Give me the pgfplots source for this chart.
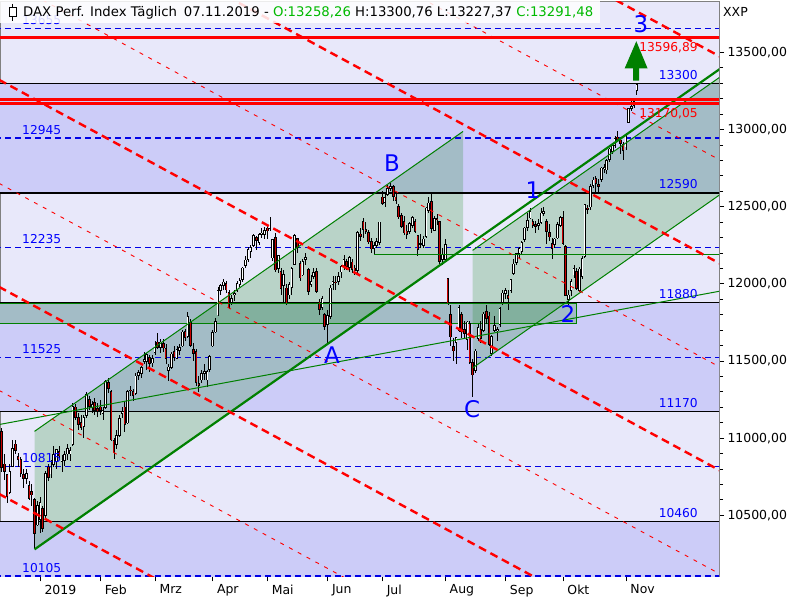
\documentclass[border=0pt]{standalone}
\usepackage{fontspec}
\setmainfont{DejaVu Sans}
\usepackage{pgfplots}
\pgfplotsset{compat=1.18}
\usepackage{pgfplotstable}
\usetikzlibrary{arrows.meta}

\definecolor{bandlight}{RGB}{232,232,250}
\definecolor{banddark}{RGB}{204,204,248}
\definecolor{chgreen}{RGB}{0,128,0}
\definecolor{lvlblue}{RGB}{0,0,230}
\definecolor{txtgreen}{RGB}{0,185,0}
\definecolor{framegray}{RGB}{128,128,128}
\definecolor{candlered}{RGB}{200,0,0}

% daily candles, x = trading day (02.01.2019 = 0)
\pgfplotstableread{
i o h l c
-14 11040 11065 10782 10811
-13 10830 10900 10730 10788
-12 10760 10770 10580 10622
-11 10650 10830 10640 10780
-10 10820 10990 10810 10931
-9 10960 10985 10900 10924
-8 10880 10905 10810 10865
-7 10860 10880 10750 10772
-6 10760 10800 10680 10740
-5 10740 10800 10700 10766
-4 10690 10720 10600 10611
-3 10650 10700 10560 10634
-2 10600 10610 10279 10382
-1 10440 10590 10430 10559
0 10477 10620 10386 10580
1 10540 10560 10390 10416
2 10500 10790 10480 10767
3 10810 10830 10720 10747
4 10770 10860 10740 10804
5 10830 10950 10810 10893
6 10850 10930 10800 10922
7 10910 10950 10860 10887
8 10850 10890 10780 10856
9 10860 10920 10820 10891
10 10900 10960 10860 10931
11 10900 10940 10850 10918
12 10960 11230 10950 11205
13 11200 11220 11120 11136
14 11130 11160 11050 11090
15 11100 11150 11050 11071
16 11080 11150 11000 11131
17 11150 11300 11130 11282
18 11250 11270 11180 11210
19 11200 11240 11160 11218
20 11230 11260 11150 11181
21 11190 11230 11140 11173
22 11200 11250 11150 11180
23 11160 11200 11120 11176
24 11200 11380 11190 11368
25 11360 11390 11290 11324
26 11300 11310 10980 10990
27 10980 11000 10863 10906
28 10960 11050 10930 11014
29 11020 11150 11010 11126
30 11160 11200 11130 11167
31 11200 11240 11040 11089
32 11100 11310 11090 11299
33 11310 11340 11270 11309
34 11300 11320 11240 11278
35 11290 11420 11280 11401
36 11410 11440 11380 11423
37 11420 11470 11390 11457
38 11500 11560 11480 11505
39 11500 11550 11440 11540
40 11520 11540 11430 11487
41 11490 11540 11460 11516
42 11560 11630 11540 11601
43 11620 11680 11580 11592
44 11590 11640 11550 11620
45 11610 11640 11560 11587
46 11580 11610 11480 11518
47 11440 11480 11370 11458
48 11460 11560 11450 11543
49 11560 11600 11500 11524
50 11520 11600 11510 11572
51 11570 11610 11540 11587
52 11600 11700 11590 11686
53 11690 11710 11630 11657
54 11660 11820 11650 11788
55 11750 11770 11590 11603
56 11570 11620 11500 11550
57 11560 11580 11340 11364
58 11350 11400 11300 11346
59 11380 11440 11360 11419
60 11420 11480 11380 11428
61 11380 11440 11330 11428
62 11450 11540 11430 11526
63 11600 11700 11590 11681
64 11690 11780 11680 11754
65 11800 11980 11790 11954
66 11960 12000 11930 11988
67 11990 12030 11960 12009
68 12000 12020 11940 11963
69 11940 11960 11840 11850
70 11880 11930 11860 11905
71 11930 11960 11890 11935
72 11960 12020 11950 11999
73 12000 12040 11980 12020
74 12030 12110 12010 12101
75 12120 12180 12100 12153
76 12160 12240 12140 12222
77 12210 12250 12170 12235
78 12250 12320 12240 12313
79 12300 12310 12220 12282
80 12270 12330 12250 12315
81 12320 12360 12300 12328
82 12320 12370 12290 12344
83 12360 12380 12290 12345
84 12360 12436 12340 12412
85 12170 12290 12150 12286
86 12300 12330 12080 12092
87 12100 12190 12070 12180
88 12080 12100 11930 11973
89 11990 12090 11870 12060
90 11970 12000 11860 11876
91 11930 12010 11900 11991
92 11980 12110 11930 12099
93 12130 12320 12120 12310
94 12290 12300 12200 12238
95 12130 12150 12020 12041
96 12060 12160 12050 12143
97 12160 12200 12120 12169
98 12090 12100 11930 11952
99 12000 12060 11980 12011
100 12050 12100 12030 12071
101 12080 12100 11940 11954
102 11880 11900 11800 11837
103 11850 11920 11830 11902
104 11800 11810 11700 11727
105 11740 11830 11620 11792
106 11790 11990 11770 11971
107 12000 12050 11960 12015
108 12010 12050 11960 12009
109 12020 12080 11990 12045
110 12080 12120 12040 12110
111 12120 12190 12090 12155
112 12140 12160 12090 12116
113 12110 12180 12080 12169
114 12140 12160 12070 12096
115 12100 12120 12060 12086
116 12090 12340 12060 12331
117 12320 12360 12280 12309
118 12400 12430 12300 12355
119 12350 12400 12320 12340
120 12330 12350 12260 12274
121 12270 12300 12200 12228
122 12230 12270 12190 12245
123 12250 12300 12230 12271
124 12270 12400 12250 12399
125 12560 12600 12510 12521
126 12530 12580 12500 12556
127 12580 12640 12570 12616
128 12620 12656 12600 12629
129 12630 12640 12540 12568
130 12560 12590 12520 12543
131 12500 12520 12420 12436
132 12440 12460 12360 12373
133 12400 12440 12320 12332
134 12340 12380 12290 12323
135 12340 12400 12320 12387
136 12380 12440 12360 12430
137 12400 12420 12330 12342
138 12310 12320 12180 12227
139 12260 12320 12230 12260
140 12250 12310 12230 12289
141 12310 12500 12300 12490
142 12480 12560 12460 12522
143 12530 12580 12330 12362
144 12350 12440 12340 12419
145 12420 12450 12380 12417
146 12400 12410 12130 12147
147 12160 12230 12120 12189
148 12160 12290 12140 12253
149 12030 12040 11860 11872
150 11800 11860 11600 11658
151 11590 11650 11500 11567
152 11620 11650 11480 11650
153 11700 11860 11690 11845
154 11800 11820 11650 11694
155 11700 11760 11640 11680
156 11640 11760 11570 11750
157 11740 11760 11480 11492
158 11490 11510 11266 11412
159 11440 11580 11420 11563
160 11650 11740 11630 11715
161 11700 11760 11620 11648
162 11700 11820 11690 11802
163 11820 11860 11740 11777
164 11790 11820 11600 11612
165 11550 11670 11530 11658
166 11700 11790 11690 11730
167 11700 11720 11630 11701
168 11740 11850 11720 11838
169 11880 11960 11860 11939
170 11940 11970 11900 11953
171 11920 11960 11830 11910
172 11960 12030 11940 12025
173 12070 12160 12060 12127
174 12140 12200 12120 12192
175 12200 12240 12170 12227
176 12210 12280 12190 12268
177 12290 12370 12270 12359
178 12370 12460 12340 12410
179 12430 12490 12420 12469
180 12400 12420 12360 12381
181 12380 12410 12330 12372
182 12380 12420 12350 12389
183 12400 12490 12390 12457
184 12460 12500 12440 12468
185 12400 12420 12260 12342
186 12330 12390 12280 12307
187 12260 12300 12160 12234
188 12260 12300 12230 12289
189 12300 12400 12290 12381
190 12380 12440 12370 12428
191 12430 12470 12250 12263
192 12240 12250 11920 11925
193 11900 11960 11860 11925
194 11960 12030 11920 12013
195 12060 12120 12040 12097
196 12080 12100 11960 11970
197 11960 12110 11950 12094
198 12050 12180 12030 12164
199 12180 12520 12170 12512
200 12490 12510 12450 12487
201 12500 12650 12480 12630
202 12640 12690 12620 12670
203 12680 12700 12590 12654
204 12640 12680 12590 12634
205 12680 12760 12660 12748
206 12750 12780 12720 12754
207 12740 12810 12710 12799
208 12810 12880 12790 12872
209 12860 12910 12840 12895
210 12900 12960 12880 12941
211 12950 12990 12920 12940
212 12930 12950 12840 12910
213 12900 12920 12800 12867
214 12890 12980 12870 12961
215 13050 13140 13040 13136
216 13140 13190 13120 13148
217 13160 13200 13140 13179
218 13258 13300 13227 13291
}\candles

\begin{document}
\begin{tikzpicture}[x=1bp,y=1bp]
\useasboundingbox (0,0) rectangle (800,600);
\fill[white] (0,0) rectangle (800,600);
\begin{axis}[
  at={(0,15.3)}, anchor=south west,
  scale only axis, width=719bp, height=575bp,
  xmin=-14.61, xmax=248, ymin=10104, ymax=13831,
  axis background/.style={fill=bandlight},
  axis line style={framegray},
  xtick={0,22,42,63,83,105,125,148,170,191,214},
  xticklabels={2019,Feb,Mrz,Apr,Mai,Jun,Jul,Aug,Sep,Okt,Nov},
  xtick pos=left,
  ytick={10500,11000,11500,12000,12500,13000,13500},
  minor y tick num=4,
  scaled y ticks=false,
  ytick pos=right, yticklabel pos=right,
  tick align=outside,
  major tick length=5bp, minor tick length=4bp,
  tick style={black, line width=0.8bp},
  ticklabel style={font=\fontsize{12.5}{14}\selectfont},
  xticklabel style={anchor=north west, xshift=1bp},
  yticklabel style={anchor=west},
  y tick label style={/pgf/number format/fixed, /pgf/number format/fixed zerofill,
    /pgf/number format/precision=2, /pgf/number format/use comma,
    /pgf/number format/1000 sep={}, /pgf/number format/assume math mode=true},
]
% bands
\addplot[draw=none, fill=banddark] coordinates {(-20,12590) (260,12590) (260,13300) (-20,13300)} --cycle;
\addplot[draw=none, fill=banddark] coordinates {(-20,11170) (260,11170) (260,11880) (-20,11880)} --cycle;
\addplot[draw=none, fill=banddark] coordinates {(-20,10000) (260,10000) (260,10460) (-20,10460)} --cycle;

% channels and box
\addplot[draw=none, fill=chgreen, fill opacity=0.2] coordinates {(-2,11044) (154.5,12988) (154.5,12226) (-2,10279)} --cycle;
\addplot[draw=none, fill=chgreen, fill opacity=0.2] coordinates {(158,12217) (250,13361) (250,12599) (158,11455)} --cycle;
\addplot[draw=chgreen, line width=1bp, fill=chgreen, fill opacity=0.2] coordinates {(-20,11745) (196.1,11745) (196.1,11872) (-20,11872)} --cycle;

% levels
\addplot[black, line width=1bp] coordinates {(-20,13300) (260,13300)};
\addplot[black, line width=2bp] coordinates {(-20,12590) (260,12590)};
\addplot[black, line width=1.3bp] coordinates {(-20,11880) (260,11880)};
\addplot[black, line width=1bp] coordinates {(-20,11170) (260,11170)};
\addplot[black, line width=1bp] coordinates {(-20,10460) (260,10460)};
\addplot[lvlblue, line width=1.2bp, dash pattern=on 6bp off 4bp] coordinates {(-20,13655) (260,13655)};
\addplot[lvlblue, line width=1.2bp, dash pattern=on 6bp off 4bp] coordinates {(-20,12945) (260,12945)};
\addplot[lvlblue, line width=1.2bp, dash pattern=on 6bp off 4bp] coordinates {(-20,12235) (260,12235)};
\addplot[lvlblue, line width=1.2bp, dash pattern=on 6bp off 4bp] coordinates {(-20,11525) (260,11525)};
\addplot[lvlblue, line width=1.2bp, dash pattern=on 6bp off 4bp] coordinates {(-20,10815) (260,10815)};
\addplot[lvlblue, line width=1.2bp, dash pattern=on 6bp off 4bp] coordinates {(-20,10106) (260,10106)};

% candles: wick, body outline, white and red interiors
\addplot[draw=none, error bars/.cd, y dir=both, y explicit, error mark=none,
  error bar style={draw=black, line width=0.8bp}]
  table[x=i, y expr={(\thisrow{h}+\thisrow{l})/2}, y error expr={(\thisrow{h}-\thisrow{l})/2}] {\candles};
\addplot[draw=none, error bars/.cd, y dir=both, y explicit, error mark=none,
  error bar style={draw=black, line width=2.6bp}]
  table[x=i, y expr={(\thisrow{o}+\thisrow{c})/2}, y error expr={abs(\thisrow{c}-\thisrow{o})/2+5}] {\candles};
\addplot[draw=none, error bars/.cd, y dir=minus, y explicit, error mark=none,
  error bar style={draw=white, line width=1bp}]
  table[x=i, y=c, y error minus expr={max(\thisrow{c}-\thisrow{o},0)}] {\candles};
\addplot[draw=none, error bars/.cd, y dir=minus, y explicit, error mark=none,
  error bar style={draw=candlered, line width=1bp}]
  table[x=i, y=o, y error minus expr={max(\thisrow{o}-\thisrow{c},0)}] {\candles};

% green trend lines
\addplot[chgreen, line width=1.5bp] coordinates {(-20,11872) (196.1,11872)};
\addplot[chgreen, line width=1bp] coordinates {(122,12191) (260,12191)};
\addplot[chgreen, line width=1bp] coordinates {(-15,11088) (249,11955)};
\addplot[chgreen, line width=1bp] coordinates {(-2,11044) (154.5,12988)};
\addplot[chgreen, line width=1bp] coordinates {(158,12217) (250,13361)};
\addplot[chgreen, line width=1bp] coordinates {(158,11455) (250,12599)};
\addplot[chgreen, line width=2.2bp] coordinates {(-2,10279) (250,13414)};

% red dashed fan
\addplot[red, line width=2.4bp, dash pattern=on 8bp off 5bp] coordinates {(-15,16006) (249,13467)};
\addplot[red, line width=2.4bp, dash pattern=on 8bp off 5bp] coordinates {(-15,14664) (249,12125)};
\addplot[red, line width=2.4bp, dash pattern=on 8bp off 5bp] coordinates {(-15,13323) (249,10784)};
\addplot[red, line width=2.4bp, dash pattern=on 8bp off 5bp] coordinates {(-15,11981) (249,9442)};
\addplot[red, line width=2.4bp, dash pattern=on 8bp off 5bp] coordinates {(-15,10639) (249,8100)};
\addplot[red, line width=0.9bp, dash pattern=on 4bp off 6bp] coordinates {(-15,15335) (249,12796)};
\addplot[red, line width=0.9bp, dash pattern=on 4bp off 6bp] coordinates {(-15,13993) (249,11454)};
\addplot[red, line width=0.9bp, dash pattern=on 4bp off 6bp] coordinates {(-15,12652) (249,10113)};
\addplot[red, line width=0.9bp, dash pattern=on 4bp off 6bp] coordinates {(-15,11310) (249,8771)};

% red resistance lines
\addplot[red, line width=3bp] coordinates {(-20,13596.89) (260,13596.89)};
\addplot[red, line width=3bp] coordinates {(-20,13197) (260,13197)};
\addplot[red, line width=3bp] coordinates {(-20,13170.05) (260,13170.05)};

% arrow to target
\addplot[chgreen, line width=6bp, -{Triangle[width=21bp,length=28bp]}] coordinates {(217.7,13318) (217.8,13578)};

% level labels
\begin{scope}[every node/.style={inner sep=0, font=\fontsize{12.3}{14}\selectfont, text=blue}]
\node[anchor=base east, yshift=4bp] at (240.3,13300) {13300};
\node[anchor=base east, yshift=4bp] at (240.3,12590) {12590};
\node[anchor=base east, yshift=4bp] at (240.3,11880) {11880};
\node[anchor=base east, yshift=4bp] at (240.3,11170) {11170};
\node[anchor=base east, yshift=4bp] at (240.3,10460) {10460};
\node[anchor=base west, yshift=4bp] at (-6.57,13655) {13655};
\node[anchor=base west, yshift=4bp] at (-6.57,12945) {12945};
\node[anchor=base west, yshift=4bp] at (-6.57,12235) {12235};
\node[anchor=base west, yshift=4bp] at (-6.57,11525) {11525};
\node[anchor=base west, yshift=4bp] at (-6.57,10815) {10815};
\node[anchor=base west, yshift=4bp] at (-6.57,10105) {10105};
\node[anchor=north east, yshift=-5bp, text=red] at (240.3,13596.89) {13596,89};
\node[anchor=north east, yshift=-5bp, text=red] at (240.3,13170.05) {13170,05};
\end{scope}
\begin{scope}[every node/.style={inner sep=0, font=\fontsize{23}{23}\selectfont, text=blue}]
\node at (219.5,13681) {3};
\node at (106.6,11536) {A};
\node at (128.6,12781) {B};
\node at (157.8,11186) {C};
\node at (180.0,12606) {1};
\node at (192.8,11802) {2};
\end{scope}
\end{axis}
% title box
\fill[white, fill opacity=0.85] (0,577) rectangle (600,600);
\draw[black, line width=1bp] (12.5,596) -- (12.5,579);
\draw[black, fill=white, line width=1bp] (9,583) rectangle (16,592);
\node[anchor=base west, inner sep=0, font=\fontsize{13.3}{15}\selectfont] at (23,583)
  {DAX Perf. Index Täglich\hspace{7bp}07.11.2019 - \textcolor{txtgreen}{O:13258,26} H:13300,76 L:13227,37 \textcolor{txtgreen}{C:13291,48}};
\node[anchor=west, inner sep=0, font=\fontsize{12.5}{14}\selectfont] at (723,588) {XXP};
\end{tikzpicture}
\end{document}
